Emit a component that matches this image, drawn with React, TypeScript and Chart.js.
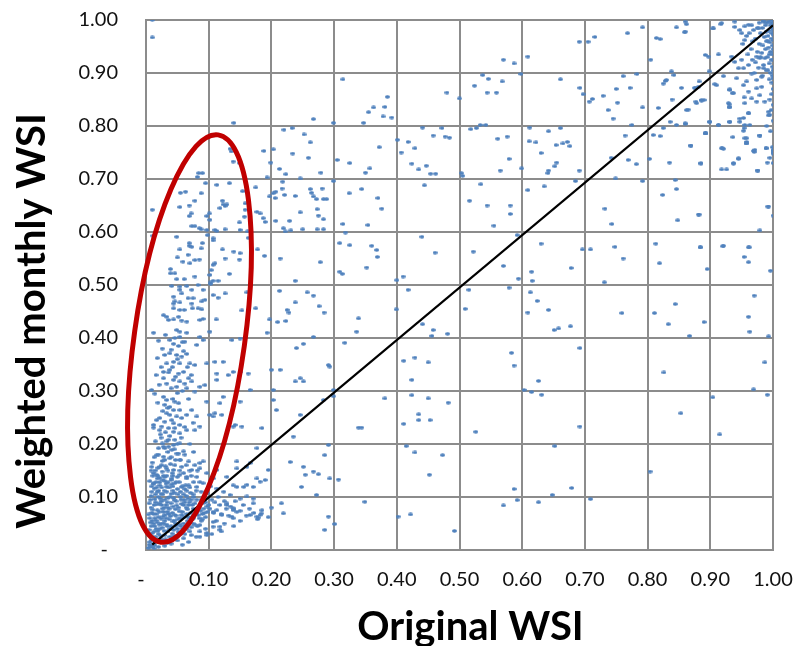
import React, { useEffect, useRef } from "react";
import { Chart, registerables } from "chart.js";

Chart.register(...registerables);

// ---------- tick labels & titles ----------
const xTickLabels = ["-\u2002", "0.10", "0.20", "0.30", "0.40", "0.50", "0.60", "0.70", "0.80", "0.90", "1.00"];
const yTickLabels = ["-\u2002", "0.10", "0.20", "0.30", "0.40", "0.50", "0.60", "0.70", "0.80", "0.90", "1.00"];
const xTitle = "Original WSI";
const yTitle = "Weighted monthly WSI";

// 1:1 reference line
const diagonalLine = [
  [0.01, 0.01],
  [1.0, 0.99],
];

// highlighted region (center x, center y, half-width in x units, half-height in y units, tilt deg)
const ellipseSpec = [0.0694, 0.399, 0.0882, 0.388, 8];

// ---------- scatter data ([original, weighted]) ----------
const upperLeftPts = [
  [0.010,1.0],[0.010,0.967],[0.314,0.888],[0.385,0.855],[0.363,0.835],[0.355,0.826],[0.381,0.836],[0.378,0.818],[0.392,0.816],[0.140,0.806],
  [0.267,0.813],[0.299,0.806],[0.347,0.806],[0.220,0.793],[0.233,0.796],[0.252,0.784],[0.262,0.769],[0.372,0.760],[0.401,0.774],[0.134,0.757],
  [0.136,0.752],[0.188,0.753],[0.203,0.756],[0.234,0.748],[0.259,0.740],[0.139,0.733],[0.149,0.730],[0.199,0.731],[0.305,0.736],[0.325,0.730],
  [0.213,0.719],[0.223,0.709],[0.279,0.712],[0.350,0.712],[0.357,0.720],[0.084,0.711],[0.090,0.711],[0.082,0.704],[0.193,0.703],[0.246,0.701],
  [0.299,0.696],[0.095,0.692],[0.113,0.689],[0.133,0.692],[0.218,0.695],[0.217,0.682],[0.207,0.676],[0.203,0.673],[0.175,0.684],[0.161,0.677],
  [0.154,0.677],[0.055,0.674],[0.063,0.676],[0.088,0.673],[0.262,0.681],[0.264,0.674],[0.281,0.682],[0.324,0.673],[0.344,0.681],[0.238,0.668],
  [0.221,0.670],[0.197,0.667],[0.206,0.664],[0.267,0.667],[0.272,0.662],[0.283,0.662],[0.288,0.662],[0.078,0.659],[0.069,0.650],[0.054,0.647],
  [0.010,0.642],[0.370,0.664],[0.376,0.644],[0.122,0.659],[0.123,0.652],[0.126,0.649],[0.118,0.645],[0.129,0.652],[0.158,0.654],[0.158,0.642],
  [0.177,0.638],[0.182,0.635],[0.101,0.635],[0.097,0.630],[0.072,0.635],[0.069,0.630],[0.246,0.637],[0.273,0.643],[0.275,0.631],[0.283,0.624],
  [0.187,0.626],[0.190,0.619],[0.157,0.629],[0.102,0.623],[0.207,0.621],[0.229,0.621],[0.149,0.618],[0.314,0.615],[0.354,0.613],[0.073,0.611],
  [0.078,0.611],[0.085,0.607],[0.088,0.605],[0.097,0.604],[0.110,0.604],[0.126,0.605],[0.113,0.602],[0.150,0.604],[0.162,0.601],[0.219,0.607],
  [0.222,0.601],[0.231,0.603],[0.250,0.605],[0.273,0.605],[0.283,0.605],[0.318,0.599],[0.011,0.593],[0.049,0.591],[0.098,0.594],[0.107,0.588],
  [0.107,0.584],[0.163,0.589],[0.309,0.579],[0.325,0.575],[0.360,0.574],[0.368,0.566],[0.369,0.553],[0.069,0.579],[0.073,0.572],[0.069,0.574],
  [0.090,0.579],[0.088,0.569],[0.054,0.567],[0.122,0.567],[0.140,0.563],[0.150,0.560],[0.178,0.567],[0.050,0.552],[0.067,0.557],[0.078,0.547],
  [0.059,0.544],[0.070,0.541],[0.085,0.548],[0.110,0.541],[0.107,0.538],[0.126,0.550],[0.149,0.548],[0.189,0.555],[0.214,0.550],[0.278,0.543],
  [0.309,0.525],[0.313,0.521],[0.352,0.533],[0.039,0.530],[0.039,0.522],[0.046,0.522],[0.049,0.511],[0.061,0.511],[0.078,0.516],[0.104,0.528],
  [0.102,0.519],[0.133,0.521],[0.103,0.505],[0.107,0.508],[0.115,0.508],[0.103,0.502],[0.238,0.508],[0.041,0.498],[0.054,0.497],[0.065,0.498],
  [0.073,0.491],[0.083,0.500],[0.091,0.491],[0.054,0.491],[0.057,0.484],[0.044,0.478],[0.046,0.469],[0.044,0.465],[0.054,0.467],[0.067,0.475],
  [0.073,0.465],[0.075,0.475],[0.089,0.469],[0.094,0.472],[0.107,0.481],[0.115,0.476],[0.126,0.484],[0.161,0.486],[0.213,0.489],[0.238,0.467],
  [0.225,0.453],[0.228,0.448],[0.257,0.486],[0.267,0.480],[0.276,0.460],[0.284,0.448],[0.339,0.437],[0.399,0.454],[0.044,0.456],[0.054,0.453],
  [0.061,0.453],[0.074,0.456],[0.083,0.456],[0.089,0.454],[0.112,0.435],[0.086,0.434],[0.091,0.436],[0.153,0.452],[0.175,0.456],[0.028,0.443],
  [0.033,0.440],[0.036,0.434],[0.044,0.435],[0.052,0.440],[0.057,0.433],[0.065,0.431],[0.197,0.435],[0.210,0.430],[0.223,0.432],[0.400,0.509],
];

const midLeftPts = [
  [0.031,0.406],[0.038,0.396],[0.044,0.389],[0.054,0.402],[0.062,0.393],[0.052,0.385],[0.054,0.412],[0.065,0.410],[0.086,0.402],[0.091,0.396],
  [0.081,0.387],[0.049,0.415],[0.102,0.412],[0.137,0.396],[0.150,0.399],[0.193,0.410],[0.240,0.381],[0.251,0.389],[0.267,0.402],[0.317,0.391],
  [0.336,0.412],
  [0.030,0.368],[0.038,0.371],[0.049,0.368],[0.057,0.365],[0.065,0.370],[0.033,0.352],[0.044,0.355],[0.054,0.352],[0.070,0.352],[0.078,0.349],
  [0.097,0.352],[0.028,0.336],[0.038,0.340],[0.052,0.333],[0.060,0.336],[0.068,0.324],[0.073,0.318],[0.044,0.321],[0.054,0.318],[0.062,0.314],
  [0.033,0.314],[0.028,0.324],[0.049,0.308],[0.065,0.305],[0.078,0.299],[0.086,0.308],[0.094,0.311],[0.110,0.355],[0.123,0.355],[0.139,0.336],
  [0.150,0.336],[0.113,0.333],[0.131,0.330],[0.113,0.321],[0.163,0.333],
  [0.028,0.289],[0.033,0.283],[0.030,0.274],[0.038,0.270],[0.046,0.280],[0.052,0.277],[0.044,0.264],[0.054,0.264],[0.033,0.258],[0.038,0.255],
  [0.022,0.249],[0.030,0.242],[0.044,0.239],[0.054,0.236],[0.036,0.230],[0.046,0.230],[0.025,0.233],[0.057,0.249],[0.065,0.255],[0.073,0.264],
  [0.081,0.252],[0.012,0.236],[0.012,0.231],[0.022,0.226],[0.044,0.223],[0.054,0.220],[0.065,0.226],[0.078,0.226],[0.086,0.233],[0.102,0.255],
  [0.110,0.258],[0.121,0.255],[0.123,0.289],[0.118,0.277],[0.139,0.233],[0.142,0.236],[0.153,0.233],[0.185,0.230],[0.150,0.280],[0.097,0.280],
  [0.107,0.252],
  [0.026,0.201],[0.036,0.208],[0.044,0.198],[0.054,0.201],[0.030,0.192],[0.041,0.189],[0.049,0.182],[0.060,0.186],[0.017,0.179],[0.028,0.176],
  [0.038,0.173],[0.054,0.170],[0.068,0.167],[0.078,0.160],[0.086,0.164],[0.091,0.167],[0.009,0.157],[0.022,0.157],[0.033,0.154],[0.044,0.151],
  [0.057,0.157],[0.073,0.151],[0.086,0.154],[0.017,0.142],[0.030,0.138],[0.041,0.135],[0.054,0.142],[0.065,0.138],[0.081,0.138],[0.097,0.145],
  [0.113,0.151],[0.012,0.126],[0.022,0.122],[0.033,0.119],[0.046,0.126],[0.057,0.119],[0.068,0.122],[0.081,0.119],[0.091,0.126],[0.107,0.135],
  [0.129,0.138],[0.145,0.154],[0.161,0.157],[0.177,0.192],[0.139,0.122],[0.156,0.119],[0.171,0.119],[0.182,0.129],
];

const leftColumnExtraPts = [
  [0.012,0.410],[0.020,0.395],[0.026,0.380],[0.018,0.362],[0.024,0.345],[0.016,0.330],[0.021,0.312],[0.014,0.295],[0.019,0.278],[0.027,0.262],
  [0.017,0.245],[0.023,0.218],[0.015,0.205],[0.020,0.192],[0.013,0.175],[0.026,0.168],[0.019,0.140],[0.027,0.132],[0.035,0.128],[0.043,0.140],
  [0.031,0.158],[0.039,0.162],[0.047,0.170],[0.052,0.182],[0.036,0.195],[0.046,0.208],[0.056,0.212],[0.031,0.222],[0.041,0.245],[0.049,0.252],
  [0.035,0.268],[0.043,0.285],[0.050,0.296],[0.040,0.305],[0.047,0.327],[0.036,0.335],[0.042,0.345],[0.050,0.360],[0.040,0.378],[0.046,0.400],
  [0.058,0.392],[0.060,0.375],[0.066,0.345],[0.072,0.330],[0.058,0.300],[0.068,0.285],[0.075,0.240],[0.062,0.232],[0.070,0.200],[0.076,0.185],
  [0.064,0.160],[0.072,0.140],[0.082,0.150],[0.088,0.110],[0.092,0.100],[0.098,0.108],[0.103,0.120],[0.076,0.128],[0.086,0.128],[0.061,0.095],
  [0.034,0.090],[0.044,0.098],[0.027,0.105],[0.017,0.118],[0.009,0.110],[0.007,0.095],[0.011,0.140],[0.006,0.060],[0.009,0.070],[0.014,0.060],
  [0.022,0.088],[0.029,0.080],[0.037,0.058],[0.047,0.050],[0.056,0.045],[0.066,0.055],[0.076,0.065],[0.083,0.078],[0.091,0.088],[0.064,0.080],
];

const originBlobPts = [
  [0.004,0.004],[0.007,0.008],[0.010,0.005],[0.014,0.009],[0.017,0.020],[0.011,0.022],[0.006,0.015],[0.009,0.026],[0.013,0.035],[0.005,0.038],
  [0.019,0.036],[0.023,0.027],[0.027,0.015],[0.031,0.020],[0.034,0.013],[0.029,0.036],[0.026,0.042],[0.021,0.048],[0.016,0.056],[0.012,0.050],
  [0.007,0.052],[0.004,0.067],[0.011,0.076],[0.016,0.068],[0.021,0.072],[0.024,0.059],[0.030,0.055],[0.033,0.048],[0.038,0.040],[0.042,0.031],
  [0.047,0.027],[0.052,0.034],[0.048,0.046],[0.043,0.054],[0.039,0.064],[0.034,0.072],[0.030,0.066],[0.026,0.078],[0.019,0.086],[0.014,0.096],
  [0.008,0.102],[0.005,0.088],[0.020,0.100],[0.025,0.092],[0.032,0.085],[0.037,0.078],[0.043,0.082],[0.046,0.066],[0.051,0.058],[0.054,0.048],
  [0.058,0.040],[0.063,0.045],[0.067,0.050],[0.061,0.062],[0.057,0.066],[0.053,0.073],[0.049,0.084],[0.045,0.094],[0.040,0.106],[0.035,0.098],
  [0.029,0.112],[0.024,0.106],[0.018,0.110],[0.013,0.116],[0.009,0.120],[0.006,0.130],[0.016,0.128],[0.022,0.136],[0.030,0.130],[0.037,0.118],
  [0.043,0.112],[0.051,0.105],[0.056,0.095],[0.060,0.085],[0.066,0.077],[0.071,0.070],[0.074,0.058],[0.078,0.048],[0.072,0.043],[0.068,0.062],
  [0.064,0.102],[0.069,0.090],[0.074,0.085],[0.079,0.076],[0.083,0.066],[0.087,0.074],[0.090,0.058],[0.093,0.070],[0.081,0.095],[0.076,0.100],
  [0.071,0.108],[0.062,0.115],[0.055,0.110],[0.048,0.128],[0.041,0.124],[0.033,0.140],[0.026,0.148],[0.019,0.155],[0.012,0.145],[0.008,0.150],
];

const lowerMidPts = [
  [0.200,0.340],[0.214,0.340],[0.238,0.318],[0.246,0.324],[0.251,0.318],[0.291,0.349],[0.293,0.346],[0.009,0.302],[0.166,0.302],[0.203,0.302],
  [0.299,0.302],[0.381,0.286],[0.283,0.283],[0.299,0.290],[0.203,0.283],[0.208,0.264],[0.246,0.255],[0.235,0.214],[0.251,0.157],[0.254,0.142],
  [0.267,0.148],[0.275,0.143],[0.230,0.166],[0.248,0.119],[0.293,0.135],[0.307,0.133],[0.291,0.198],[0.285,0.179],[0.339,0.231],[0.344,0.231],
  [0.349,0.091],[0.291,0.063],[0.285,0.038],[0.272,0.104],[0.219,0.069],[0.216,0.088],[0.179,0.061],[0.184,0.069],[0.150,0.074],[0.139,0.077],
  [0.171,0.088],[0.145,0.167],[0.166,0.164],[0.177,0.135],[0.161,0.123],[0.190,0.132],[0.195,0.151],[0.113,0.116],[0.124,0.110],[0.134,0.104],
  [0.145,0.119],[0.150,0.097],[0.161,0.101],[0.171,0.097],[0.129,0.085],[0.139,0.079],[0.166,0.066],[0.177,0.063],[0.121,0.066],[0.137,0.063],
  [0.107,0.053],[0.118,0.044],[0.097,0.028],[0.086,0.047],[0.075,0.060],[0.097,0.082],[0.113,0.075],[0.129,0.088],[0.139,0.075],[0.182,0.066],
  [0.107,0.044],[0.118,0.038],[0.097,0.032],[0.086,0.025],[0.139,0.060],[0.107,0.072],[0.402,0.063],[0.301,0.049],
];

const originClusterPts = [
  [0.005,0.010],[0.008,0.018],[0.012,0.012],[0.015,0.025],[0.018,0.015],[0.010,0.032],[0.020,0.030],[0.025,0.020],[0.022,0.040],[0.014,0.045],
  [0.030,0.028],[0.028,0.050],[0.035,0.035],[0.032,0.060],[0.040,0.045],[0.038,0.025],[0.045,0.055],[0.042,0.070],[0.050,0.040],[0.048,0.065],
  [0.055,0.060],[0.052,0.080],[0.060,0.050],[0.058,0.072],[0.065,0.068],[0.062,0.090],[0.070,0.060],[0.068,0.085],[0.075,0.078],[0.072,0.095],
  [0.080,0.070],[0.078,0.088],[0.085,0.082],[0.088,0.095],[0.092,0.078],[0.095,0.090],[0.010,0.055],[0.012,0.068],[0.008,0.080],[0.015,0.090],
  [0.018,0.075],[0.020,0.062],[0.025,0.085],[0.028,0.072],[0.030,0.095],[0.035,0.080],[0.038,0.100],[0.040,0.088],[0.045,0.108],[0.048,0.092],
  [0.050,0.115],[0.055,0.100],[0.058,0.120],[0.060,0.105],[0.065,0.112],[0.070,0.118],[0.075,0.105],[0.080,0.112],[0.015,0.105],[0.020,0.112],
  [0.025,0.118],[0.012,0.125],[0.018,0.135],[0.022,0.128],[0.028,0.140],[0.032,0.125],[0.035,0.150],[0.040,0.132],[0.042,0.145],[0.046,0.160],
  [0.050,0.138],[0.054,0.150],[0.060,0.145],[0.065,0.135],[0.070,0.150],[0.025,0.160],[0.030,0.170],[0.020,0.180],[0.035,0.185],[0.040,0.175],
  [0.045,0.190],[0.028,0.195],[0.015,0.150],[0.010,0.165],[0.055,0.170],[0.062,0.180],[0.050,0.200],[0.033,0.205],[0.038,0.215],[0.024,0.212],
  [0.044,0.025],[0.055,0.030],[0.065,0.040],[0.075,0.050],[0.085,0.060],[0.090,0.068],[0.100,0.085],[0.098,0.072],[0.105,0.095],[0.110,0.090],
  [0.115,0.100],[0.082,0.045],[0.070,0.035],[0.060,0.022],[0.050,0.018],[0.040,0.012],[0.030,0.008],[0.020,0.006],[0.088,0.055],[0.095,0.062],
  [0.102,0.078],[0.108,0.070],[0.118,0.085],[0.125,0.092],[0.120,0.068],[0.128,0.078],[0.135,0.082],[0.132,0.065],[0.145,0.072],[0.142,0.092],
  [0.155,0.085],[0.160,0.065],[0.165,0.078],[0.172,0.070],[0.178,0.058],[0.185,0.075],[0.195,0.062],[0.200,0.080],[0.112,0.055],[0.125,0.050],
  [0.140,0.045],[0.150,0.055],[0.095,0.040],[0.105,0.030],[0.120,0.035],[0.080,0.025],[0.068,0.015],[0.058,0.010],[0.016,0.040],[0.024,0.050],
  [0.034,0.045],[0.044,0.038],[0.062,0.030],[0.072,0.028],[0.086,0.035],[0.008,0.045],[0.006,0.028],[0.013,0.003],[0.018,0.052],[0.027,0.063],
  [0.036,0.068],[0.047,0.077],[0.057,0.087],[0.067,0.097],[0.013,0.085],[0.023,0.097],[0.033,0.110],[0.043,0.120],[0.053,0.128],[0.063,0.122],
];

const upperRightPts = [
  [0.691,0.959],[0.705,0.959],[0.716,0.968],[0.768,0.975],[0.792,0.986],[0.814,0.966],[0.820,0.964],[0.846,0.986],[0.862,0.992],[0.859,0.977],
  [0.904,0.984],[0.917,0.992],[0.570,0.925],[0.587,0.918],[0.609,0.931],[0.500,0.852],[0.480,0.863],[0.537,0.896],[0.546,0.889],[0.568,0.884],
  [0.524,0.876],[0.544,0.863],[0.559,0.863],[0.598,0.898],[0.661,0.888],[0.692,0.872],[0.697,0.860],[0.712,0.851],[0.707,0.846],[0.729,0.857],
  [0.737,0.830],[0.752,0.844],[0.761,0.894],[0.772,0.872],[0.783,0.898],[0.750,0.870],[0.792,0.835],[0.817,0.834],[0.805,0.925],[0.838,0.903],
  [0.842,0.896],[0.825,0.880],[0.828,0.885],[0.830,0.887],[0.839,0.850],[0.854,0.872],[0.875,0.872],[0.882,0.884],[0.865,0.831],[0.877,0.846],
  [0.886,0.848],[0.890,0.849],[0.907,0.879],[0.898,0.903],[0.921,0.894],[0.931,0.869],[0.935,0.862],[0.930,0.841],[0.930,0.835],[0.954,0.854],
  [0.961,0.824],[0.953,0.815],[0.947,0.808],[0.931,0.808],[0.913,0.802],[0.899,0.808],[0.860,0.804],[0.846,0.802],[0.836,0.808],[0.825,0.796],
  [0.809,0.783],[0.820,0.781],[0.775,0.802],[0.764,0.782],[0.745,0.814],
  [0.860,0.997],[0.860,0.978],[0.905,0.984],[0.918,0.994],[0.939,0.997],[0.947,0.981],[0.950,0.975],[0.955,0.962],[0.939,0.987],[0.961,0.991],
  [0.969,0.981],[0.977,0.984],[0.985,0.997],[0.892,0.934],[0.897,0.931],[0.913,0.935],[0.934,0.931],[0.939,0.921],[0.950,0.925],[0.945,0.909],
  [0.953,0.909],[0.961,0.915],[0.974,0.931],[0.979,0.928],[0.966,0.899],[0.974,0.887],[0.982,0.893],[0.985,0.909],[0.974,0.871],[0.982,0.874],
  [0.953,0.877],[0.942,0.890],[0.958,0.884],[0.961,0.865],[0.931,0.868],[0.937,0.862],[0.876,0.871],[0.881,0.874],[0.878,0.843],[0.886,0.849],
  [0.862,0.830],[0.910,0.877],[0.929,0.843],[0.931,0.836],[0.955,0.843],[0.966,0.852],[0.974,0.846],[0.979,0.858],[0.987,0.846],[0.993,0.827],
  [0.995,0.821],[0.961,0.824],[0.947,0.814],[0.931,0.808],[0.913,0.802],[0.899,0.808],[0.860,0.805],[0.892,0.786],[0.955,0.802],[0.963,0.802],
];

const cornerPts = [
  [1.0,1.0],[0.998,0.995],[0.996,0.990],[0.999,0.985],[0.994,0.980],[0.998,0.975],[0.992,0.970],[0.997,0.965],[0.995,0.958],[0.999,0.952],
  [0.993,0.948],[0.996,0.940],[0.999,0.935],[0.991,0.930],[0.997,0.925],[0.994,0.918],[0.999,0.912],[0.992,0.905],[0.996,0.900],[0.999,0.895],
  [0.994,0.888],[0.998,0.882],[0.990,0.995],[0.985,0.998],[0.988,0.990],[0.983,0.985],[0.989,0.978],[0.986,0.968],[0.990,0.960],[0.984,0.952],
  [0.988,0.945],[0.982,0.938],[0.987,0.928],[0.985,0.915],[0.989,0.905],[0.983,0.895],[0.978,0.995],[0.975,0.985],[0.980,0.975],[0.972,0.965],
  [0.978,0.955],[0.975,0.940],[0.980,0.930],[0.972,0.920],[0.977,0.910],[0.970,0.900],[0.966,0.990],[0.962,0.975],[0.968,0.960],[0.965,0.945],
  [0.960,0.935],[0.967,0.925],[0.955,0.988],[0.958,0.970],[0.952,0.955],[1.0,0.870],[0.998,0.860],[0.995,0.850],[1.0,0.840],[0.997,0.830],
  [0.993,0.820],[1.0,0.810],[0.990,0.800],[0.996,0.790],[0.999,0.760],[1.0,0.750],[0.995,0.740],[1.0,0.730],[0.997,1.0],[0.993,0.997],
  [1.0,0.992],[1.0,0.982],[1.0,0.972],[1.0,0.962],[1.0,0.945],[1.0,0.925],[1.0,0.905],[1.0,0.890],[0.992,0.960],[0.994,0.935],
];

const midRightPts = [
  [0.441,0.797],[0.472,0.796],[0.458,0.782],[0.477,0.780],[0.484,0.778],[0.418,0.770],[0.429,0.758],[0.407,0.750],[0.424,0.729],[0.435,0.718],
  [0.447,0.725],[0.454,0.710],[0.462,0.710],[0.444,0.688],[0.518,0.794],[0.527,0.796],[0.533,0.802],[0.542,0.802],[0.561,0.776],[0.576,0.780],
  [0.579,0.738],[0.565,0.716],[0.599,0.720],[0.503,0.711],[0.505,0.706],[0.534,0.690],[0.516,0.659],[0.544,0.650],[0.581,0.650],[0.581,0.634],
  [0.555,0.612],[0.612,0.797],[0.611,0.771],[0.622,0.769],[0.642,0.790],[0.661,0.796],[0.630,0.749],[0.654,0.764],[0.665,0.767],[0.672,0.770],
  [0.676,0.762],[0.655,0.731],[0.652,0.724],[0.642,0.716],[0.641,0.711],[0.691,0.716],[0.685,0.696],[0.635,0.686],[0.609,0.679],[0.732,0.644],
  [0.743,0.615],[0.742,0.740],[0.749,0.701],[0.769,0.736],[0.782,0.728],[0.792,0.696],[0.803,0.738],[0.835,0.731],[0.844,0.698],[0.846,0.681],
  [0.824,0.670],[0.848,0.622],[0.881,0.633],[0.885,0.729],[0.892,0.786],[0.869,0.763],[0.919,0.758],[0.921,0.757],[0.918,0.718],[0.926,0.718],
  [0.937,0.729],[0.945,0.738],[0.954,0.796],[0.958,0.777],[0.957,0.767],[0.969,0.753],[0.970,0.751],[0.979,0.782],[0.989,0.758],[0.991,0.731],
  [0.975,0.716],[1.0,0.753],[1.0,0.748],[0.993,0.648],[1.0,0.631],[0.979,0.603],
  [0.440,0.591],[0.461,0.561],[0.522,0.563],[0.570,0.536],[0.592,0.594],[0.594,0.512],[0.579,0.495],[0.615,0.525],[0.616,0.508],[0.613,0.486],
  [0.624,0.470],[0.609,0.448],[0.642,0.453],[0.630,0.578],[0.696,0.567],[0.709,0.567],[0.678,0.532],[0.731,0.505],[0.748,0.572],[0.761,0.550],
  [0.759,0.447],[0.813,0.578],[0.819,0.541],[0.811,0.447],[0.844,0.464],[0.833,0.426],[0.884,0.571],[0.895,0.530],[0.890,0.430],[0.920,0.573],
  [0.954,0.553],[0.961,0.571],[0.961,0.543],[0.970,0.480],[0.961,0.440],[0.996,0.527],[0.418,0.491],[0.410,0.516],[0.441,0.426],[0.509,0.455],
  [0.515,0.491],[0.677,0.422],[0.658,0.418],
  [0.893,0.786],[0.869,0.763],[0.885,0.730],[0.936,0.779],[0.953,0.791],[0.955,0.777],[0.958,0.770],[0.958,0.767],[0.979,0.782],[0.918,0.758],
  [0.945,0.739],[0.937,0.730],[0.971,0.755],[0.989,0.758],[1.0,0.755],[0.976,0.716],[0.882,0.633],[0.992,0.648],[0.884,0.571],[0.921,0.574],
  [0.962,0.571],
];

const lowerRightPts = [
  [0.411,0.357],[0.429,0.363],[0.450,0.354],[0.424,0.321],[0.424,0.292],[0.450,0.286],[0.482,0.278],[0.411,0.238],[0.435,0.256],[0.435,0.245],
  [0.453,0.245],[0.415,0.196],[0.429,0.184],[0.473,0.179],[0.452,0.142],[0.422,0.067],[0.492,0.036],[0.458,0.415],[0.481,0.408],[0.456,0.404],
  [0.583,0.372],[0.587,0.348],[0.692,0.381],[0.603,0.302],[0.615,0.298],[0.631,0.293],[0.626,0.319],[0.526,0.223],[0.692,0.233],[0.652,0.196],
  [0.587,0.115],[0.592,0.094],[0.570,0.084],[0.626,0.090],[0.648,0.104],[0.679,0.117],[0.709,0.096],[0.651,0.415],[0.867,0.404],[0.826,0.335],
  [0.853,0.258],[0.804,0.148],[0.904,0.288],[0.915,0.218],[0.969,0.303],[0.991,0.293],[0.987,0.354],[0.963,0.412],[0.993,0.403],
];

const allPts = [
  ...upperLeftPts, ...midLeftPts, ...leftColumnExtraPts, ...lowerMidPts, ...originClusterPts, ...originBlobPts,
  ...upperRightPts, ...cornerPts, ...midRightPts, ...lowerRightPts,
];

// ---------- styling ----------
const GRID = "#8c8c8c";
const DOT = "#4f81bd";
const RED = "#c00000";
const TICK_FONT = { family: "Lato", size: 20 };
const TICK_COLOR = "#111";
const TITLE_FONT = "bold 40px Lato";

function makeDot(): HTMLCanvasElement {
  const c = document.createElement("canvas");
  c.width = 5;
  c.height = 4;
  const g = c.getContext("2d")!;
  g.fillStyle = DOT;
  g.beginPath();
  g.ellipse(2.5, 2, 2.5, 1.8, 0, 0, Math.PI * 2);
  g.fill();
  return c;
}

const overlayPlugin = {
  id: "overlay",
  afterDatasetsDraw(chart: any) {
    const { ctx } = chart;
    const xs = chart.scales.x;
    const ys = chart.scales.y;
    const [cx, cy, rxv, ryv, tilt] = ellipseSpec;
    const px = xs.getPixelForValue(cx);
    const py = ys.getPixelForValue(cy);
    const rx = Math.abs(xs.getPixelForValue(cx + rxv) - px);
    const ry = Math.abs(ys.getPixelForValue(cy + ryv) - py);
    ctx.save();
    ctx.strokeStyle = RED;
    ctx.lineWidth = 5;
    ctx.beginPath();
    ctx.ellipse(px, py, rx, ry, (tilt * Math.PI) / 180, 0, Math.PI * 2);
    ctx.stroke();
    ctx.restore();
  },
  afterDraw(chart: any) {
    const { ctx, chartArea } = chart;
    ctx.save();
    ctx.fillStyle = "#000";
    ctx.font = TITLE_FONT;
    ctx.textAlign = "center";
    ctx.textBaseline = "alphabetic";
    ctx.fillText(xTitle, (chartArea.left + chartArea.right) / 2 + 11, chartArea.bottom + 90);
    ctx.translate(45, (chartArea.top + chartArea.bottom) / 2 + 36);
    ctx.rotate(-Math.PI / 2);
    ctx.fillText(yTitle, 0, 0);
    ctx.restore();
  },
};

export default function App() {
  const ref = useRef<HTMLCanvasElement | null>(null);

  useEffect(() => {
    document.body.style.margin = "0";
    const canvas = ref.current!;
    const dot = makeDot();
    const chart = new Chart(canvas, {
      type: "scatter",
      data: {
        datasets: [
          {
            type: "line",
            data: diagonalLine.map(([x, y]) => ({ x, y })),
            borderColor: "#000",
            borderWidth: 2.2,
            pointRadius: 0,
            fill: false,
            order: 0,
          } as any,
          {
            type: "scatter",
            data: allPts.map(([x, y]) => ({ x, y })),
            pointStyle: dot as any,
            pointRadius: 2,
            backgroundColor: DOT,
            borderWidth: 0,
            order: 1,
          },
        ],
      },
      options: {
        animation: false,
        responsive: false,
        events: [],
        layout: { padding: { left: 0, right: 21, top: 20, bottom: 0 } },
        plugins: { legend: { display: false }, tooltip: { enabled: false } },
        scales: {
          x: {
            type: "linear",
            min: 0,
            max: 1,
            ticks: {
              stepSize: 0.1,
              autoSkip: false,
              maxRotation: 0,
              padding: 18,
              color: TICK_COLOR,
              font: TICK_FONT,
              callback: (_v: any, i: number) => xTickLabels[i],
            },
            grid: { color: GRID, lineWidth: 2, drawTicks: false },
            border: { color: GRID, width: 2 },
            afterFit: (s: any) => {
              s.height = 96;
              s.paddingLeft = 0;
              s.paddingRight = 0;
              s.paddingTop = 0;
              s.paddingBottom = 0;
            },
          },
          y: {
            type: "linear",
            min: 0,
            max: 1,
            ticks: {
              stepSize: 0.1,
              autoSkip: false,
              padding: 28,
              color: TICK_COLOR,
              font: TICK_FONT,
              callback: (_v: any, i: number) => yTickLabels[i],
            },
            grid: { color: GRID, lineWidth: 2, drawTicks: false },
            border: { color: GRID, width: 2 },
            afterFit: (s: any) => {
              s.width = 146;
              s.paddingLeft = 0;
              s.paddingRight = 0;
              s.paddingTop = 0;
              s.paddingBottom = 0;
            },
          },
        },
      },
      plugins: [overlayPlugin],
    });
    return () => chart.destroy();
  }, []);

  return (
    <div style={{ width: 794, height: 646, background: "#fff" }}>
      <canvas ref={ref} width={794} height={646} style={{ display: "block" }} />
    </div>
  );
}
